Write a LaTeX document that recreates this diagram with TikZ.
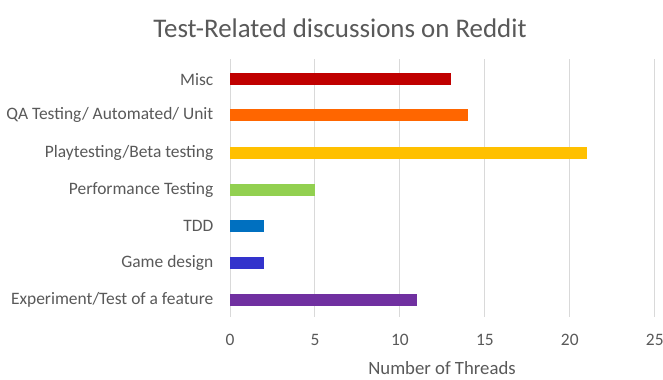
\documentclass[tikz,border=0pt]{standalone}
\usepackage{fontspec}
\setmainfont{Carlito}
\definecolor{txt}{HTML}{595959}
\definecolor{gridc}{HTML}{D9D9D9}
\definecolor{cmisc}{HTML}{C00000}
\definecolor{cqa}{HTML}{FF6600}
\definecolor{cplay}{HTML}{FFC000}
\definecolor{cperf}{HTML}{92D050}
\definecolor{ctdd}{HTML}{0070C0}
\definecolor{cgame}{HTML}{3333CC}
\definecolor{cexp}{HTML}{7030A0}
\begin{document}
\begin{tikzpicture}[x=1bp,y=-1bp,
  grid/.style={draw=gridc,line width=1bp},
  cat/.style={anchor=east,text=txt,font=\fontsize{17.5}{20}\selectfont,inner sep=0pt},
  tick/.style={anchor=center,text=txt,font=\fontsize{17.5}{20}\selectfont,inner sep=0pt},
  bar/.style={inner sep=0pt}]
\useasboundingbox (0,0) rectangle (663,379);
\fill[white] (0,0) rectangle (663,379);
% title
\node[text=txt,font=\fontsize{27}{30}\selectfont] (title) at (340,28) {Test-Related discussions on Reddit};
% gridlines and tick labels
\foreach \v [count=\i] in {0,5,10,15,20,25} {
  \draw[grid] ({230+\v*16.99},59) -- ({230+\v*16.99},317);
  \node[tick] (t\i) at ({230+\v*16.99},339.5) {\v};
}
\node[tick,font=\fontsize{18.8}{21}\selectfont] (xtitle) at (442,368) {Number of Threads};
% bars
\foreach \name/\lab/\val/\col/\y in {
  misc/Misc/13/cmisc/79.3,
  qa/{QA Testing/ Automated/ Unit}/14/cqa/115.3,
  play/{Playtesting/Beta testing}/21/cplay/152.7,
  perf/Performance Testing/5/cperf/190,
  tdd/TDD/2/ctdd/226,
  game/Game design/2/cgame/263.3,
  exp/{Experiment/Test of a feature}/11/cexp/300} {
  \fill[\col] (230,\y-6) rectangle ({230+\val*16.99},\y+6);
  \node[cat] (l\name) at (213.5,\y) {\lab};
}
\end{tikzpicture}
\end{document}
